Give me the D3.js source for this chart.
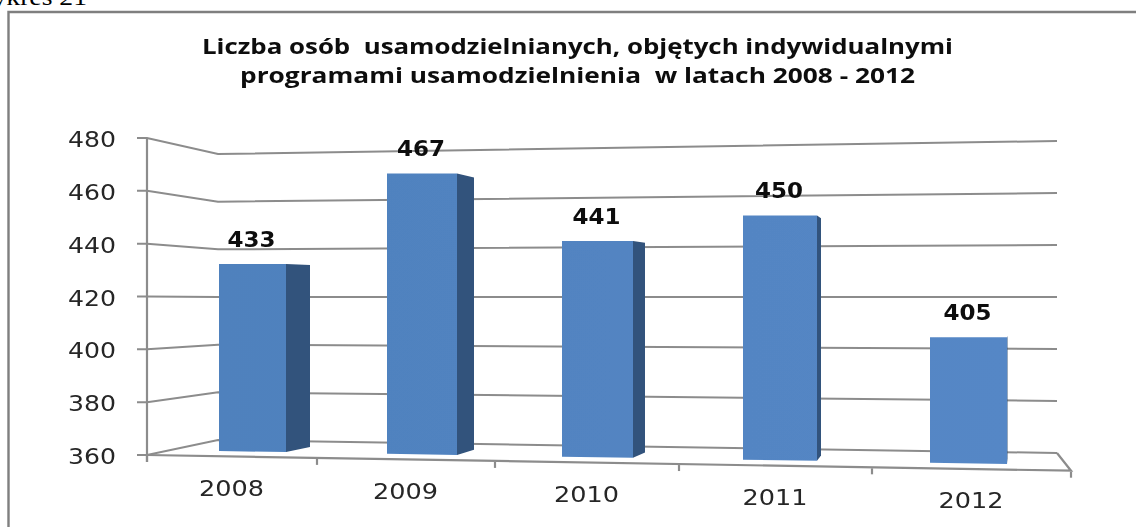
<!DOCTYPE html>
<html lang="pl">
<head>
<meta charset="utf-8">
<title>Wykres 21</title>
<script src="https://cdn.jsdelivr.net/npm/d3@7"></script>
<style>
html,body{margin:0;padding:0;background:#fff;overflow:hidden}
svg{display:block}
</style>
</head>
<body>
<svg id="c" width="1136" height="527"></svg>
<script>
const years = ["2008", "2009", "2010", "2011", "2012"];
const values = [433, 467, 441, 450, 405];
const yTicks = [360, 380, 400, 420, 440, 460, 480];
const titleLines = [
  "Liczba osób  usamodzielnianych, objętych indywidualnymi",
  "programami usamodzielnienia  w latach 2008 - 2012"
];
const caption = "Wykres 21";

const svg = d3.select("#c");
const defs = svg.append("defs");
defs.append("filter").attr("id", "soft").attr("x", "-5%").attr("y", "-5%").attr("width", "110%").attr("height", "110%")
  .append("feGaussianBlur").attr("stdDeviation", 0.5);
const grad = defs.append("linearGradient").attr("id", "front").attr("gradientUnits", "userSpaceOnUse")
  .attr("x1", 219).attr("y1", 0).attr("x2", 1007).attr("y2", 0);
grad.append("stop").attr("offset", 0).attr("stop-color", "#4f81bd");
grad.append("stop").attr("offset", 1).attr("stop-color", "#5587c6");

const idx = years.map((d, i) => i);

// Perspective wall scales: one y scale per vertical edge of the 3D box
const domainY = [360, 480];
const yAxis = d3.scaleLinear().domain(domainY).range([455, 138]);
const yBackL = d3.scaleLinear().domain(domainY).range([440, 154]);
const yBackR = d3.scaleLinear().domain(domainY).range([453, 141]);
const X = {axis: 147, tickL: 137, backL: 218, backR: 1057, front: 1071};

// Category band edges along the front of the floor
const band = d3.scaleLinear().domain([0, 1, 2, 3, 4, 5]).range([147, 317, 495, 679, 872, 1071]);
const frontY = d3.scaleLinear().domain([147, 1071]).range([455, 470.7]);

// Bars: front plane projection
const barL = d3.scaleLinear().domain(idx).range([219, 387, 562, 743, 930]);
const barW = d3.scaleLinear().domain(idx).range([67, 70, 71, 74, 77]);
const sideW = d3.scaleLinear().domain(idx).range([24, 17, 12, 4, 0.5]);
const unit = d3.scaleLinear().domain(idx).range([2.57, 2.625, 2.67, 2.72, 2.8]);
const floorY = d3.scaleLinear().domain([219, 1007]).range([451, 464]);
const barTop = i => floorY(barL(i) + barW(i) / 2) - (values[i] - domainY[0]) * unit(i);
const sideDy = y => (297 - y) * 0.033;

const chart = svg.append("g").attr("filter", "url(#soft)");

// Outer frame
chart.append("path")
  .attr("d", d3.line()([[8.5, 527], [8.5, 12], [1136, 12]]))
  .attr("fill", "none").attr("stroke", "#7f7f7f").attr("stroke-width", 2.4);

// Gridlines
const gridLine = d3.line();
chart.append("g").selectAll("path").data(yTicks).join("path")
  .attr("d", v => gridLine([[X.tickL, yAxis(v)], [X.axis, yAxis(v)], [X.backL, yBackL(v)], [X.backR, yBackR(v)]]))
  .attr("fill", "none").attr("stroke", "#8c8c8c").attr("stroke-width", 2);

// Axis and front floor edge
const axisStroke = g => g.attr("fill", "none").attr("stroke", "#8c8c8c").attr("stroke-width", 2.2);
chart.append("path").call(axisStroke)
  .attr("d", d3.line()([[X.axis, yAxis(480)], [X.axis, yAxis(360) + 7]]));
chart.append("path").call(axisStroke)
  .attr("d", d3.line()([[X.axis, yAxis(360)], [X.front, frontY(X.front)], [X.backR, yBackR(360)]]));
chart.append("g").selectAll("path").data(d3.range(0, 6)).join("path").call(axisStroke)
  .attr("d", i => d3.line()([[band(i), frontY(band(i)) + 1], [band(i), frontY(band(i)) + 7]]));

// Bars
const bars = chart.append("g").selectAll("g").data(idx).join("g");
bars.append("path").attr("fill", "#31527b")
  .attr("d", i => {
    const r = barL(i) + barW(i), t = barTop(i), b = floorY(r), s = sideW(i);
    return d3.line()([[r, t], [r + s, t + sideDy(t)], [r + s, b + sideDy(b)], [r, b]]) + "Z";
  });
bars.append("path").attr("fill", "url(#front)")
  .attr("d", i => {
    const l = barL(i), r = l + barW(i), t = barTop(i);
    return d3.line()([[l, t], [r, t], [r, floorY(r)], [l, floorY(l)]]) + "Z";
  });

// Y labels
const labelFont = "'DejaVu Sans', sans-serif";
chart.append("g").selectAll("text").data(yTicks).join("text")
  .attr("x", 68).attr("y", v => yAxis(v) + 9)
  .attr("textLength", 48).attr("lengthAdjust", "spacingAndGlyphs")
  .attr("font-family", labelFont).attr("font-size", 21).attr("fill", "#262626")
  .text(v => v);

// X labels
chart.append("g").selectAll("text").data(idx).join("text")
  .attr("x", i => (band(i) + band(i + 1)) / 2 - 33)
  .attr("y", i => frontY((band(i) + band(i + 1)) / 2) + 39.3)
  .attr("textLength", 65).attr("lengthAdjust", "spacingAndGlyphs")
  .attr("font-family", labelFont).attr("font-size", 21).attr("fill", "#262626")
  .text(i => years[i]);

// Value labels
chart.append("g").selectAll("text").data(idx).join("text")
  .attr("x", i => barL(i) + barW(i) / 2 - 25)
  .attr("y", i => barTop(i) - 17)
  .attr("textLength", 48).attr("lengthAdjust", "spacingAndGlyphs")
  .attr("font-family", labelFont).attr("font-weight", "bold").attr("font-size", 21).attr("fill", "#0d0d0d")
  .text(i => values[i]);

// Title
const titleX = [202, 240], titleLen = [751, 675], titleY = [53.5, 83];
chart.append("g").selectAll("text").data(titleLines).join("text")
  .attr("x", (d, i) => titleX[i]).attr("y", (d, i) => titleY[i])
  .attr("textLength", (d, i) => titleLen[i]).attr("lengthAdjust", "spacingAndGlyphs")
  .attr("font-family", "'Open Sans', sans-serif").attr("font-weight", "bold").attr("font-size", 21)
  .attr("fill", "#0d0d0d").attr("xml:space", "preserve")
  .text(d => d);

// Page caption, cut by the page edge as in the source scan
svg.append("text").attr("x", -32).attr("y", 5)
  .attr("textLength", 119).attr("lengthAdjust", "spacingAndGlyphs")
  .attr("font-family", "'Liberation Serif', serif").attr("font-size", 24).attr("fill", "#000")
  .text(caption);
</script>
</body>
</html>
